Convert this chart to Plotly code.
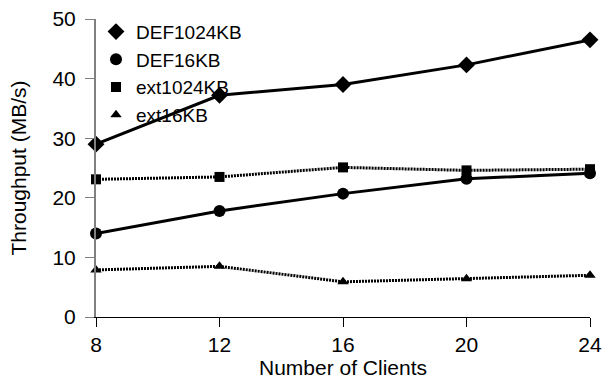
import plotly.graph_objects as go

clients = [8, 12, 16, 20, 24]
def1024 = [29.0, 37.2, 39.0, 42.3, 46.5]
def16 = [14.0, 17.8, 20.7, 23.2, 24.1]
ext1024 = [23.1, 23.5, 25.1, 24.6, 24.8]
ext16 = [7.9, 8.5, 5.9, 6.4, 7.0]

series = [
    ("DEF1024KB", def1024, "diamond", 13, "solid"),
    ("DEF16KB", def16, "circle", 12, "solid"),
    ("ext1024KB", ext1024, "square", 10, "2px,1px"),
    ("ext16KB", ext16, "triangle-up", 10, "2px,1px"),
]

fig = go.Figure()
for name, ys, sym, sz, dash in series:
    fig.add_trace(go.Scatter(
        x=clients, y=ys, mode="lines+markers", name=name, showlegend=False,
        line=dict(color="black", width=3, dash=dash),
        marker=dict(symbol=sym, size=sz, color="black"),
        cliponaxis=False,
    ))
for name, ys, sym, sz, dash in series:
    fig.add_trace(go.Scatter(
        x=[None], y=[None], mode="markers", name=name,
        marker=dict(symbol=sym, size=sz, color="black"),
    ))

fig.update_layout(
    width=610, height=385,
    margin=dict(l=96, r=20, t=19, b=68, autoexpand=False),
    plot_bgcolor="white", paper_bgcolor="white",
    font=dict(family="Liberation Sans, Arial", size=21, color="black"),
    showlegend=True,
    legend=dict(x=0.0, y=1.021, xanchor="left", yanchor="top",
                bgcolor="rgba(0,0,0,0)", font=dict(size=19),
                itemwidth=30, tracegroupgap=0),
    xaxis=dict(range=[8, 24], tickvals=clients, ticks="outside", ticklen=9,
               tickcolor="black", showline=True, linecolor="black", linewidth=1,
               showgrid=False, zeroline=False, automargin=False,
               title=dict(text="Number of Clients", font=dict(size=21), standoff=4)),
    yaxis=dict(range=[0, 50], tickvals=[0, 10, 20, 30, 40, 50], ticks="outside",
               ticklen=9, tickcolor="#808080", showline=True, linecolor="#808080",
               linewidth=2, showgrid=False, zeroline=False, automargin=False,
               ticklabelstandoff=5,
               title=dict(text="Throughput (MB/s)", font=dict(size=21), standoff=20)),
)
fig.write_html("out.html")
